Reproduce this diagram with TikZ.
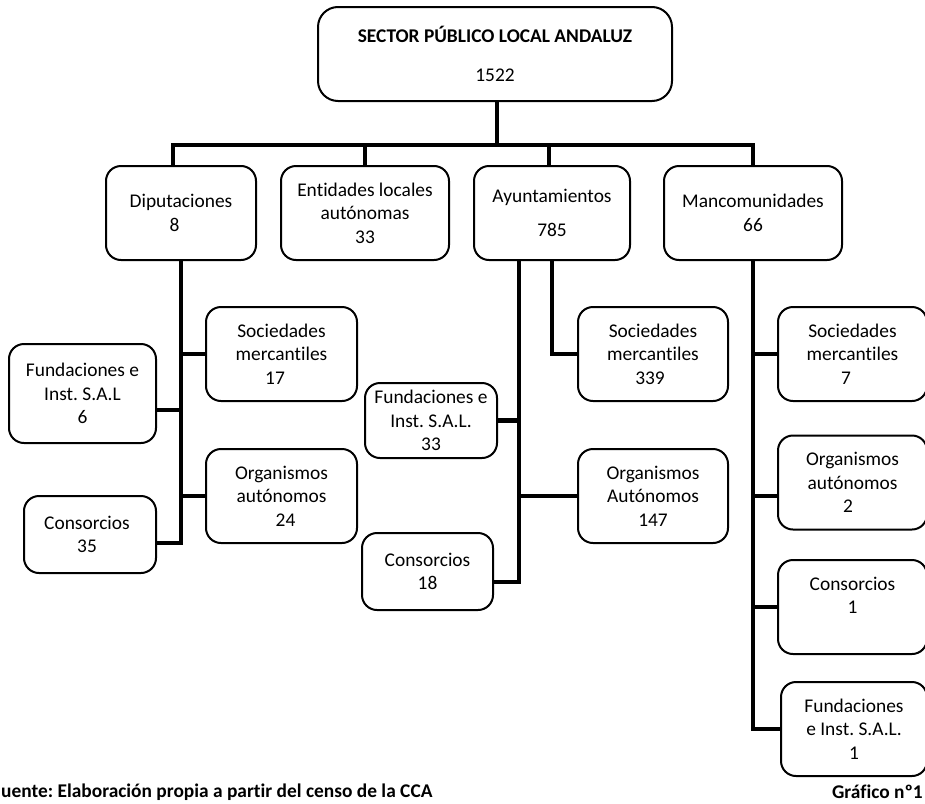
\documentclass[tikz,border=0pt]{standalone}
\usepackage{fontspec}
\setmainfont[Ligatures=NoCommon]{Carlito}
\frenchspacing

\begin{document}
\begin{tikzpicture}[x=1pt, y=-1pt, font=\fontsize{19.4}{23.5}\selectfont,
                    box/.style = {draw, rounded corners=15pt, line width=2pt, align=center, inner sep=0pt},
                    lvl/.style = {box, minimum width=#1, minimum height=94pt},
                    conn/.style = {line width=4.5pt}]
        \useasboundingbox (0,0) rectangle (925,803);
        % top
        \node[box, minimum width=354pt, minimum height=94pt, rounded corners=20pt] (top) at (495,54) {\textbf{SECTOR PÚBLICO LOCAL ANDALUZ}\\[15pt]1522};
        % second level
        \node[lvl=150pt] (dip) at (181,213) {Diputaciones\\8\hspace*{13pt}};
        \node[lvl=168pt] (ent) at (365,213) {Entidades locales\\autónomas\\33};
        \node[lvl=156pt] (ayu) at (552,213) {Ayuntamientos\\[10.5pt]785};
        \node[lvl=178pt] (man) at (753,213) {Mancomunidades\\66};
        % diputaciones
        \node[lvl=151pt] (dsoc) at (281.5,354) {Sociedades\\mercantiles\\17\hspace*{13pt}};
        \node[box, minimum width=147pt, minimum height=99pt] (dfun) at (82.5,393.5) {Fundaciones e\\Inst. S.A.L\\6};
        \node[lvl=151pt] (dorg) at (281.5,496) {Organismos\\autónomos\\\hspace*{8pt}24};
        \node[box, minimum width=132pt, minimum height=77pt] (dcon) at (90,534.5) {Consorcios\hspace*{6pt}\\35\hspace*{6pt}};
        % ayuntamientos
        \node[lvl=150pt] (asoc) at (653,354) {Sociedades\\mercantiles\\339\hspace*{6pt}};
        \node[box, minimum width=132pt, minimum height=75pt] (afun) at (431,420.5) {Fundaciones e\\Inst. S.A.L.\\33};
        \node[lvl=150pt] (aorg) at (653,496) {Organismos\\Autónomos\\147};
        \node[box, minimum width=131pt, minimum height=77pt] (acon) at (427.5,571.5) {Consorcios\\18};
        % mancomunidades
        \node[lvl=149pt] (msoc) at (852.5,354) {Sociedades\\mercantiles\\7\hspace*{13pt}};
        \node[lvl=149pt] (morg) at (852.5,482.5) {Organismos\\autónomos\\2\hspace*{9pt}};
        \node[lvl=149pt] (mcon) at (852.5,607) {Consorcios\\1\\~};
        \node[lvl=146pt] (mfun) at (854,729) {Fundaciones\\e Inst. S.A.L.\\1};
        % footer
        \node[anchor=west, inner sep=0pt] (src) at (1,792) {\textbf{uente: Elaboración propia a partir del censo de la CCA}};
        \node[anchor=east, inner sep=0pt] (fig) at (923,792) {\textbf{Gráfico nº1}};

        \coordinate (bus) at (497,145);
        \coordinate (dcon-in) at ([yshift=-8.5pt]dcon.east);
        \coordinate (dfun-in) at ([yshift=-16.5pt]dfun.east);
        \coordinate (ayu-trunk) at ([xshift=-33pt]ayu.south);
        \coordinate (acon-in) at ([yshift=-10.5pt]acon.east);
        \coordinate (morg-in) at ([yshift=-13.5pt]morg.west);

        \draw[conn] (top.south -| bus) -- (bus);
        \draw[conn] (bus) -| ([xshift=-8pt]dip.north);
        \draw[conn] (bus) -| (ent.north);
        \draw[conn] (bus) -| ([xshift=-3pt]ayu.north);
        \draw[conn] (bus) -| (man.north);

        \draw[conn] (dip.south) |- (dcon-in);
        \draw[conn] (dip.south |- dsoc.west) -- (dsoc.west);
        \draw[conn] (dip.south |- dfun-in) -- (dfun-in);
        \draw[conn] (dip.south |- dorg.west) -- (dorg.west);

        \draw[conn] (ayu-trunk) |- (acon-in);
        \draw[conn] (ayu.south) |- (asoc.west);
        \draw[conn] (ayu-trunk |- afun.east) -- (afun.east);
        \draw[conn] (ayu-trunk |- aorg.west) -- (aorg.west);

        \draw[conn] (man.south) |- (mfun.west);
        \draw[conn] (man.south |- msoc.west) -- (msoc.west);
        \draw[conn] (man.south |- morg-in) -- (morg-in);
        \draw[conn] (man.south |- mcon.west) -- (mcon.west);
    \end{tikzpicture}
\end{document}
